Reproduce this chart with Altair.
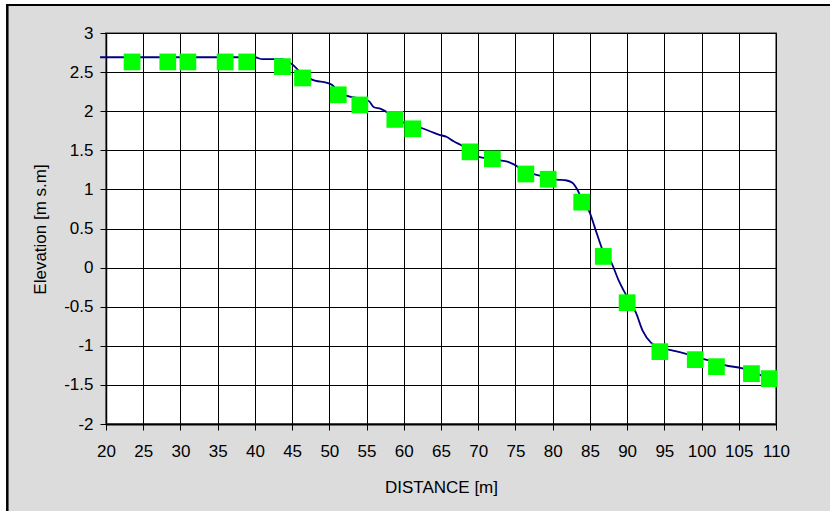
import altair as alt
import pandas as pd

# Measured points (green squares)
pt_x = [23.5, 28.3, 31.0, 36.0, 38.9, 43.7, 46.4, 51.2, 54.1, 58.8, 61.2,
        68.9, 71.9, 76.4, 79.4, 83.9, 86.8, 90.0, 94.4, 99.15, 102.0, 106.7, 109.1]
pt_y = [2.63, 2.63, 2.63, 2.63, 2.63, 2.57, 2.425, 2.21, 2.08, 1.895, 1.775,
        1.48, 1.39, 1.197, 1.13, 0.837, 0.143, -0.449, -1.075, -1.177, -1.267, -1.356, -1.42]

# Profile line (navy)
ln_x = [19.2, 40.0, 41.0, 43.5, 45.0, 46.4, 47.5, 50.3, 51.2, 52.3, 55.3, 56.0, 56.9,
        58.8, 61.2, 62.3, 63.6, 64.7, 65.8, 66.7, 67.6, 68.9, 70.0, 71.9, 73.0,
        74.1, 74.8, 76.4, 77.7, 79.4, 80.5, 81.75, 82.65, 83.3, 83.9, 85.0, 85.6,
        86.2, 86.8, 87.9, 88.8, 89.8, 91.2, 92.1, 93.2, 94.4, 95.9, 97.7, 99.15,
        100.3, 102.0, 103.1, 105.5, 106.7, 109.1]
ln_y = [2.69, 2.69, 2.665, 2.665, 2.6, 2.47, 2.41, 2.34, 2.25, 2.2, 2.13, 2.05, 2.03,
        1.92, 1.8, 1.786, 1.74, 1.70, 1.67, 1.615, 1.57, 1.5, 1.42, 1.39, 1.37,
        1.35, 1.32, 1.22, 1.19, 1.15, 1.126, 1.117, 1.084, 0.998, 0.88, 0.70, 0.53,
        0.36, 0.2, 0.06, -0.15, -0.34, -0.58, -0.81, -0.96, -1.02, -1.055, -1.097, -1.14,
        -1.17, -1.21, -1.246, -1.29, -1.33, -1.42]

x_ticks = [20, 25, 30, 35, 40, 45, 50, 55, 60, 65, 70, 75, 80, 85, 90, 95, 100, 105, 110]
y_ticks = [-2, -1.5, -1, -0.5, 0, 0.5, 1, 1.5, 2, 2.5, 3]

FONT = "Liberation Sans"

pts = pd.DataFrame({"x": pt_x, "y": pt_y})
line_df = pd.DataFrame({"x": ln_x, "y": ln_y})
one = pd.DataFrame({"a": [0]})

xenc = alt.X("x:Q",
             scale=alt.Scale(domain=[20, 110], nice=False, zero=False),
             axis=alt.Axis(values=x_ticks, title="DISTANCE [m]", grid=True,
                           gridColor="black", gridWidth=1, gridOpacity=1,
                           domainColor="black", domainWidth=2,
                           tickColor="black", tickSize=6, tickWidth=1,
                           labelPadding=13, labelFontSize=17, labelFont=FONT,
                           labelColor="black", labelFlush=False, labelOverlap=False,
                           labelExpr="'' + datum.value",
                           titleFont=FONT, titleFontSize=17, titleFontWeight="normal",
                           titleColor="black", titleY=68, titleBaseline="alphabetic"))
yenc = alt.Y("y:Q",
             scale=alt.Scale(domain=[-2, 3], nice=False, zero=False),
             axis=alt.Axis(values=y_ticks, title="Elevation [m s.m]", grid=True,
                           gridColor="black", gridWidth=1, gridOpacity=1,
                           domainColor="black", domainWidth=1.5,
                           tickColor="black", tickSize=6, tickWidth=1,
                           labelPadding=7, labelFontSize=17, labelFont=FONT,
                           labelColor="black", labelFlush=False, labelOverlap=False,
                           labelExpr="'' + datum.value",
                           titleFont=FONT, titleFontSize=17, titleFontWeight="normal",
                           titleColor="black", titleX=-66, titleY=196, titleAngle=270,
                           titleAlign="center", titleBaseline="middle"))

profile = alt.Chart(line_df).mark_line(color="#000080", strokeWidth=1.8,
                                        interpolate="monotone").encode(x=xenc, y=yenc)
squares = alt.Chart(pts).mark_point(shape="square", filled=True, color="#00ff00",
                                    opacity=1, size=280, strokeWidth=0).encode(
    x=xenc, y=yenc)

# frame decoration (white margin + black border of the chart area)
white_left = alt.Chart(one).mark_rect(color="white").encode(
    x=alt.value(-106), x2=alt.value(-100), y=alt.value(-33), y2=alt.value(478))
white_top = alt.Chart(one).mark_rect(color="white").encode(
    x=alt.value(-106), x2=alt.value(724), y=alt.value(-33), y2=alt.value(-29))
border_left = alt.Chart(one).mark_rule(color="black", strokeWidth=2.5).encode(
    x=alt.value(-98.7), y=alt.value(-29), y2=alt.value(478))
border_top = alt.Chart(one).mark_rule(color="black", strokeWidth=2).encode(
    x=alt.value(-100), x2=alt.value(724), y=alt.value(-28))

chart = alt.layer(profile, squares, white_left, white_top, border_left, border_top).properties(
    width=670, height=391,
    background="#dcdcdc",
    padding={"left": 106, "top": 33, "right": 54, "bottom": 87},
    autosize=alt.AutoSizeParams(type="none"),
).configure_view(
    stroke="#808080", strokeWidth=2, fill="white"
)

chart.save("out.html", embed_options={"renderer": "svg", "actions": False})
